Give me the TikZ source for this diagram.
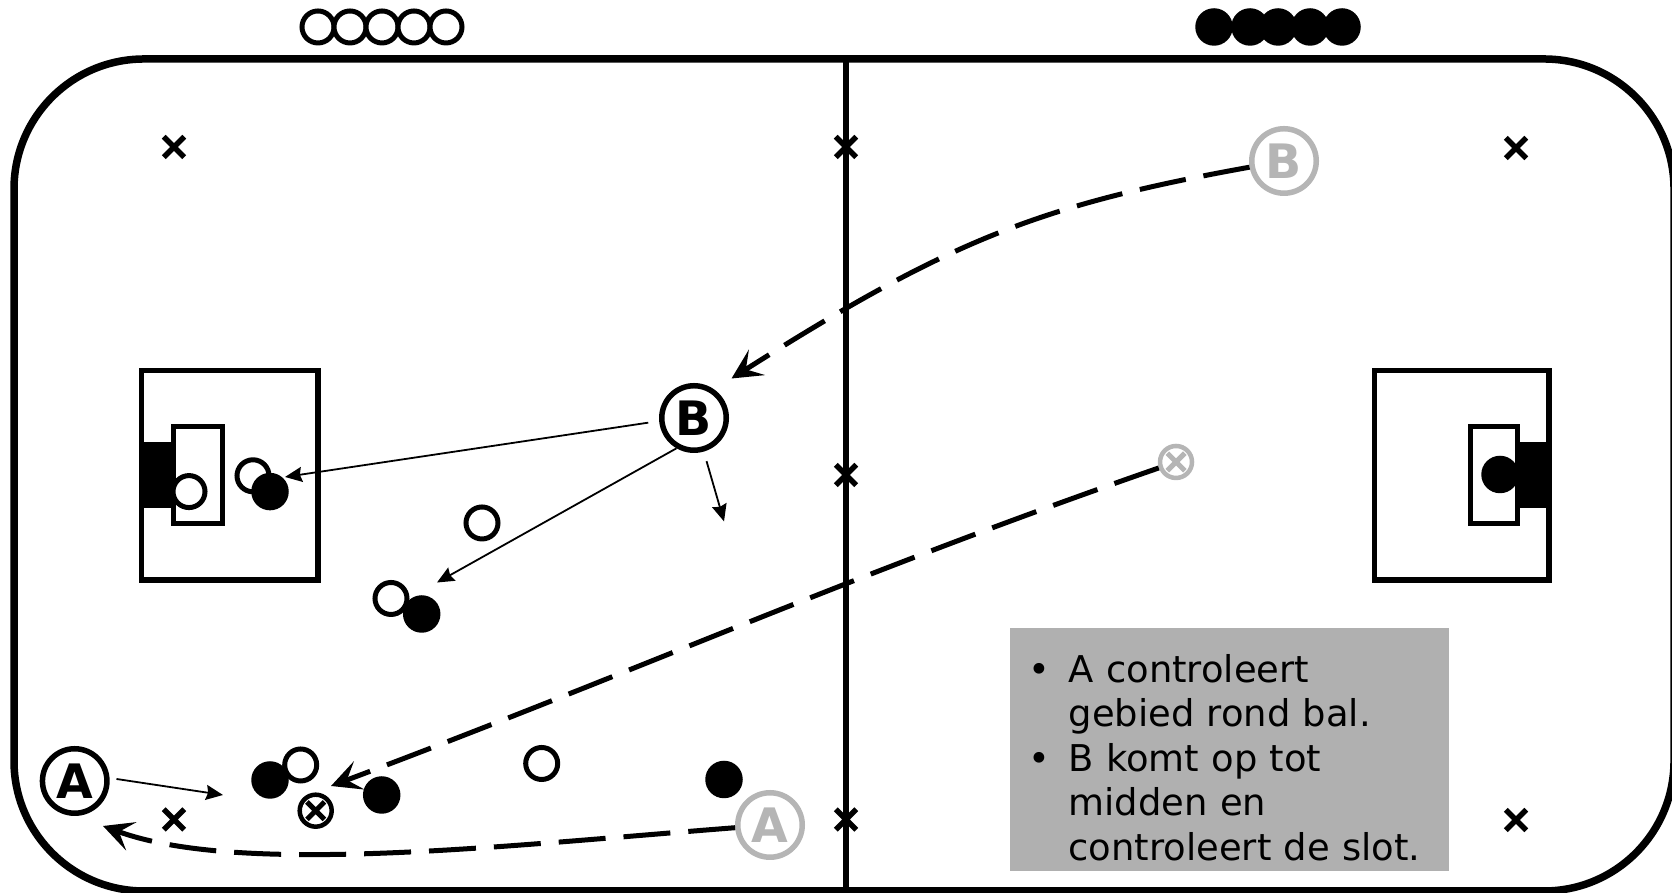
\documentclass[tikz,border=0pt]{standalone}
\usepackage{fontspec}
\setmainfont{DejaVu Sans}
\usepackage{xcolor}
\usetikzlibrary{arrows.meta,shapes.misc}
\definecolor{ghost}{gray}{0.71}
\definecolor{legendgray}{gray}{0.69}
\tikzset{
  whitep/.style={circle,draw,fill=white,line width=.05cm,minimum size=.32cm,inner sep=0},
  blackp/.style={circle,fill=black,minimum size=.375cm,inner sep=0},
  letterp/.style={circle,draw,fill=white,line width=.055cm,minimum size=.645cm,inner sep=0,font=\fontsize{13.5}{14}\selectfont\bfseries},
  ghostp/.style={letterp,draw=ghost,text=ghost},
  crossmark/.style={cross out,draw,line width=.055cm,minimum size=.15cm,inner sep=0},
  ballp/.style={whitep,line width=.045cm},
  ballx/.style={cross out,draw,line width=.05cm,minimum size=.125cm,inner sep=0},
  movearrow/.style={line width=.05cm,dash pattern=on .47cm off .18cm,-{Stealth[length=.3cm,width=.3cm,inset=.13cm]}},
  passarrow/.style={line width=.018cm,-{Stealth[length=.17cm,width=.15cm,inset=.02cm]}},
  penalty/.style={line width=.053cm}
}
\begin{document}
\begin{tikzpicture}
  \useasboundingbox (0,0) rectangle (16.72,8.93);
  % field
  \draw[line width=.075cm,rounded corners=1.3cm] (.14,.02) rectangle (16.74,8.34);
  \draw[penalty] (1.415,5.225) rectangle (3.18,3.13);
  \draw[penalty] (1.735,4.665) rectangle (2.225,3.695);
  \fill (1.44,4.51) rectangle (1.76,3.845);
  \draw[penalty] (13.745,5.225) rectangle (15.49,3.13);
  \draw[penalty] (14.705,4.665) rectangle (15.175,3.695);
  \fill (15.175,4.51) rectangle (15.49,3.845);
  \draw (8.46,8.34) node (midtop) {};
  \draw (8.46,.02) node (midbottom) {};
  \path[-,line width=.06cm] (midtop.center) edge (midbottom.center);
  % crosses
  \draw (1.74,7.46) node[crossmark] (crossa) {};
  \draw (8.46,7.46) node[crossmark] (crossb) {};
  \draw (15.16,7.45) node[crossmark] (crossc) {};
  \draw (8.46,4.18) node[crossmark] (crossd) {};
  \draw (1.74,.735) node[crossmark] (crosse) {};
  \draw (8.46,.735) node[crossmark] (crossf) {};
  \draw (15.16,.73) node[crossmark] (crossg) {};
  % benches
  \foreach \x [count=\i] in {3.18,3.50,3.82,4.14,4.46}
    \draw (\x,8.66) node[whitep] (bench\i) {};
  \foreach \x [count=\i] in {12.14,12.50,12.78,13.10,13.42}
    \draw (\x,8.66) node[blackp] (sub\i) {};
  % players
  \draw (1.89,4.014) node[whitep] (keeperw) {};
  \draw (2.53,4.172) node[whitep] (boxw) {};
  \draw (2.70,4.014) node[blackp] (boxb) {};
  \draw (4.82,3.70) node[whitep] (midw) {};
  \draw (4.217,2.79) node[blackp] (pairb) {};
  \draw (3.91,2.945) node[whitep] (pairw) {};
  \draw (2.70,1.13) node[blackp] (lowb) {};
  \draw (3.007,1.28) node[whitep] (loww) {};
  \draw (3.157,.823) node[ballp] (ball) {};
  \draw (ball) node[ballx] (ballcross) {};
  \draw (3.817,.98) node[blackp] (ballb) {};
  \draw (5.417,1.295) node[whitep] (farw) {};
  \draw (7.24,1.135) node[blackp] (farb) {};
  \draw (15.00,4.185) node[blackp] (keeperb) {};
  \draw (.747,1.12) node[letterp] (a) {A};
  \draw (6.94,4.75) node[letterp] (b) {B};
  \draw (7.70,.68) node[ghostp] (gosta) {A};
  \draw (12.84,7.32) node[ghostp] (gostb) {B};
  \draw (11.76,4.31) node[ballp,draw=ghost] (gostball) {};
  \draw (gostball) node[ballx,draw=ghost] (gostcross) {};
  % free arrow ends
  \coordinate (keepertip) at (2.85,4.16);
  \coordinate (pairtip) at (4.37,3.105);
  \coordinate (freetip) at (7.24,3.716);
  \coordinate (lowtip) at (2.23,.98);
  \coordinate (btip) at (7.315,5.145);
  \coordinate (atip) at (1.03,.67);
  \coordinate (balltip) at (3.31,1.07);
  % passes
  \path[passarrow,shorten <=.11cm] (b.185) edge (keepertip);
  \path[passarrow] (b.240) edge (pairtip);
  \path[passarrow,shorten <=.1cm] (b) edge (freetip);
  \path[passarrow,shorten <=.07cm] (a.5) edge (lowtip);
  % runs
  \draw[movearrow] (gostb) .. controls (10.4,6.88) and (9.5,6.53) .. (btip);
  \draw[movearrow] (gostball) .. controls (8.5,3.18) and (6.4,2.23) .. (balltip);
  \draw[movearrow] (gosta) .. controls (5,.47) and (2.4,.17) .. (atip);
  % legend
  \draw (12.295,1.435) node[fill=legendgray,minimum height=2.43cm,text width=4.39cm,inner xsep=0,inner ysep=0,font=\fontsize{10.5}{12.66}\selectfont] (legend) {%
    \begin{list}{\textbullet}{\setlength{\leftmargin}{.586cm}\setlength{\labelsep}{.186cm}\setlength{\labelwidth}{.4cm}\setlength{\topsep}{0pt}\setlength{\itemsep}{0pt}\setlength{\parsep}{0pt}\setlength{\partopsep}{0pt}}
      \item A controleert\\gebied rond bal.
      \item B komt op tot\\midden en\\controleert de slot.
    \end{list}};
\end{tikzpicture}
\end{document}
